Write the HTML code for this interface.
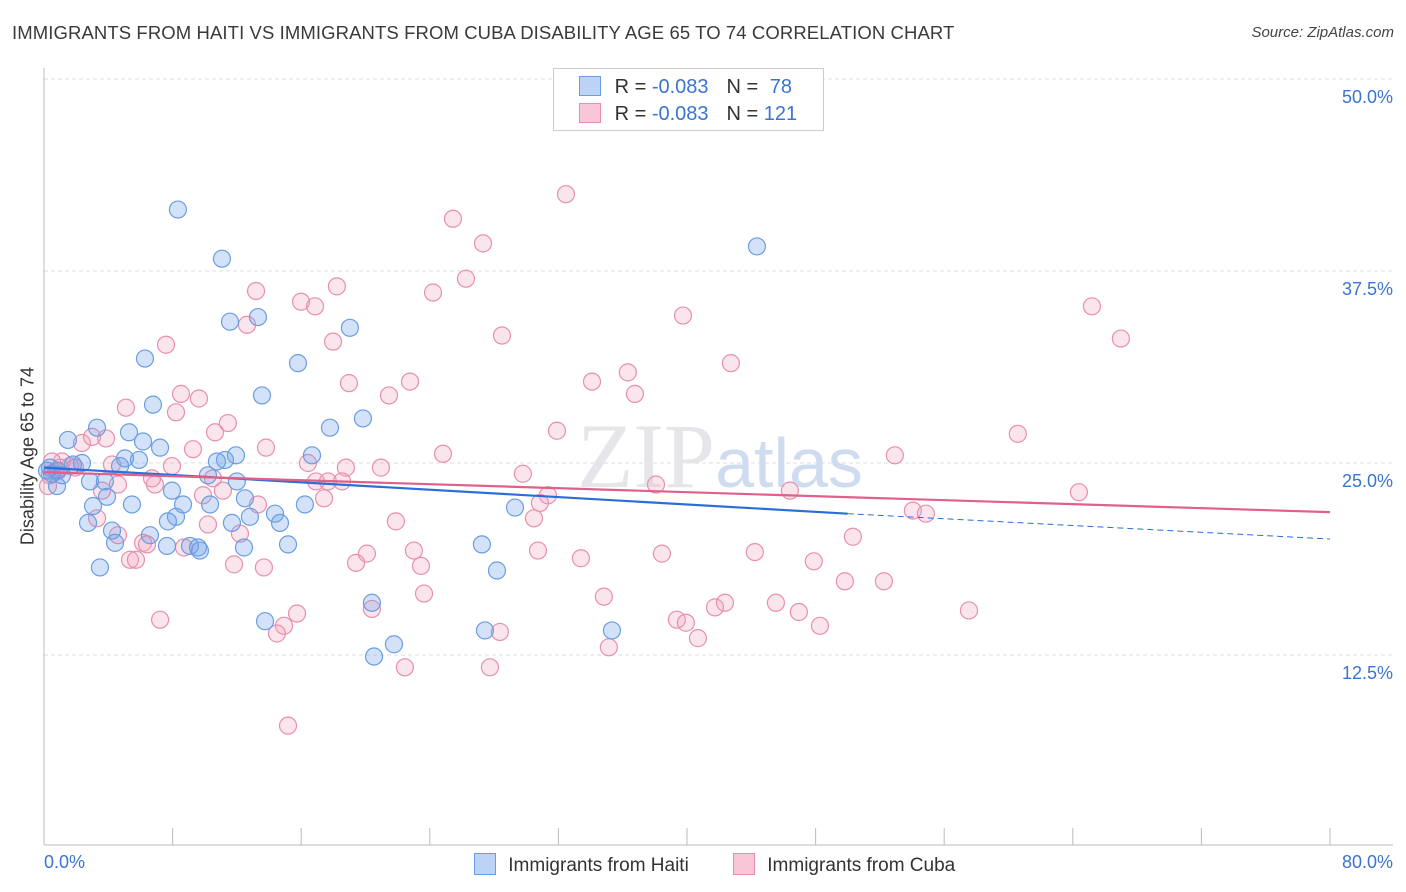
<!DOCTYPE html>
<html><head><meta charset="utf-8">
<style>
body{margin:0;background:#fff;font-family:"Liberation Sans",sans-serif;}
#wrap{position:relative;width:1406px;height:892px;overflow:hidden;}
.t{position:absolute;white-space:nowrap;}
</style></head>
<body>
<div id="wrap">
<div class="t" style="left:12px;top:22px;font-size:18.5px;color:#3a3a3a;letter-spacing:0.1px">IMMIGRANTS FROM HAITI VS IMMIGRANTS FROM CUBA DISABILITY AGE 65 TO 74 CORRELATION CHART</div>
<div class="t" style="right:12px;top:24px;font-size:15px;color:#444;font-style:italic">Source: ZipAtlas.com</div>
<svg id="chart" width="1406" height="892" style="position:absolute;left:0;top:0"></svg>
</div>
<script>
const haitiX=[8.33,11.07,44.35,11.57,13.31,19.03,6.28,15.80,6.78,13.56,19.84,17.79,3.30,5.29,1.49,6.16,7.22,16.67,11.94,11.26,10.76,5.91,5.04,4.73,2.36,1.80,0.37,0.87,1.12,2.86,3.79,7.96,10.20,12.00,8.65,10.33,12.50,3.92,3.05,5.47,16.23,29.30,14.37,12.81,14.68,7.71,8.21,11.69,2.74,4.23,6.59,4.42,7.65,9.08,9.58,9.70,12.44,15.18,27.24,3.48,28.18,20.40,13.75,27.43,35.33,21.77,20.53,0.81,0.50,0.19];
const haitiY=[41.5,38.3,39.1,34.2,34.5,33.8,31.8,31.5,28.8,29.4,27.9,27.3,27.3,27.0,26.5,26.4,26.0,25.5,25.5,25.2,25.1,25.2,25.3,24.8,25.0,24.9,24.7,24.5,24.2,23.8,23.8,23.2,24.2,23.8,22.3,22.3,22.7,22.8,22.2,22.3,22.3,22.1,21.7,21.5,21.1,21.2,21.5,21.1,21.1,20.6,20.3,19.8,19.6,19.6,19.5,19.3,19.5,19.7,19.7,18.2,18.0,15.9,14.7,14.1,14.1,13.2,12.4,23.5,24.3,24.5];
const cubaX=[32.47,25.44,27.31,26.25,24.20,13.19,18.22,15.99,16.86,65.19,39.75,12.63,28.49,17.98,66.99,7.59,42.73,36.32,34.09,22.77,18.97,8.52,36.76,9.64,21.46,5.10,8.21,11.44,10.64,31.91,60.58,2.36,3.86,2.99,9.27,13.81,24.82,52.93,1.12,16.42,18.78,20.96,29.79,7.96,4.23,1.62,0.75,0.25,4.60,6.90,6.72,10.51,11.13,16.92,17.66,18.54,38.07,46.40,64.38,3.61,9.89,13.31,17.42,31.35,30.85,54.05,54.86,3.30,21.89,10.20,30.48,12.19,50.32,4.60,6.16,6.41,8.71,20.09,23.01,30.73,38.44,44.22,5.35,5.72,19.41,33.40,11.82,13.68,23.45,47.89,49.82,52.25,23.64,34.83,42.36,41.74,45.53,57.54,46.96,15.74,20.40,7.22,39.37,39.93,48.27,14.93,14.49,28.36,40.68,35.14,22.45,27.74,15.18,0.37,1.00,1.93,0.50];
const cubaY=[42.5,40.9,39.3,37.0,36.1,36.2,36.5,35.5,35.2,35.2,34.6,34.0,33.3,32.9,33.1,32.7,31.5,30.9,30.3,30.3,30.2,29.5,29.5,29.2,29.4,28.6,28.3,27.6,27.0,27.1,26.9,26.3,26.6,26.7,25.9,26.0,25.6,25.5,25.1,25.0,24.7,24.7,24.3,24.8,24.9,24.8,24.5,23.5,23.6,23.6,24.0,24.0,23.2,23.8,23.8,23.8,23.6,23.2,23.1,23.2,22.9,22.3,22.7,22.9,22.4,21.9,21.7,21.4,21.2,21.0,21.4,20.4,20.2,20.3,19.8,19.7,19.5,19.1,19.3,19.3,19.1,19.2,18.7,18.7,18.5,18.8,18.4,18.2,18.3,18.6,17.3,17.3,16.5,16.3,15.9,15.6,15.9,15.4,15.3,15.2,15.5,14.8,14.8,14.6,14.4,14.4,13.9,14.0,13.6,13.0,11.7,11.7,7.9,24.2,24.7,24.7,25.1];
const yTicks=[12.5,25.0,37.5,50.0];
const yTickLabels=["12.5%","25.0%","37.5%","50.0%"];
const xTicks=[0,8,16,24,32,40,48,56,64,72,80];
const haitiTrend=[24.7,21.7,20.05]; // at x=0, x=50 (end of solid), x=80
const cubaTrend=[24.4,21.8]; // at x=0, x=80

const NS="http://www.w3.org/2000/svg";
const svg=document.getElementById('chart');
const X0=44,X1=1330,Y0=847,YS=192/12.5;
const sx=v=>X0+(v/80)*(X1-X0);
const sy=v=>Y0-v*YS;
function mk(tag,attrs,parent){const e=document.createElementNS(NS,tag);for(const k in attrs)e.setAttribute(k,attrs[k]);(parent||svg).appendChild(e);return e;}

yTicks.forEach((t,i)=>{
  const g=mk('line',{x1:X0,x2:1393,y1:sy(t),y2:sy(t),stroke:'#dcdcdc','stroke-dasharray':'4,3','stroke-width':1});
  
  
  const tx=mk('text',{x:1393,y:sy(t)+24,'text-anchor':'end','font-size':18,fill:'#3b74d1','font-family':'Liberation Sans, sans-serif'});
  tx.textContent=yTickLabels[i];
  
  
});
const ax=mk('line',{x1:X0,x2:X0,y1:68,y2:845,stroke:'#bbb','stroke-width':1});


const bx=mk('line',{x1:X0,x2:1393,y1:845,y2:845,stroke:'#bbb','stroke-width':1});


xTicks.forEach(t=>{
  const l=mk('line',{x1:sx(t),x2:sx(t),y1:828,y2:845,stroke:'#bbb','stroke-width':1});
  
  
});
const wm=mk('text',{x:720,y:487,'text-anchor':'middle','font-size':92,fill:'#e6e6ea','font-family':'Liberation Serif, serif'});
wm.innerHTML='ZIP<tspan font-family="Liberation Sans, sans-serif" font-size="70" fill="#cfdcf0">atlas</tspan>';



cubaX.forEach((v,i)=>{
  const c=mk('circle',{cx:sx(v),cy:sy(cubaY[i]),r:8.5,fill:'rgba(242,160,188,0.28)',stroke:'#e98fae','stroke-width':1.2});
  
  
});
haitiX.forEach((v,i)=>{
  const c=mk('circle',{cx:sx(v),cy:sy(haitiY[i]),r:8.5,fill:'rgba(110,160,232,0.3)',stroke:'#6a9ee2','stroke-width':1.2});
  
  
});
const hl=mk('line',{x1:sx(0),y1:sy(haitiTrend[0]),x2:sx(50),y2:sy(haitiTrend[1]),stroke:'#2a6fd6','stroke-width':2.2});


const hd=mk('line',{x1:sx(50),y1:sy(haitiTrend[1]),x2:sx(80),y2:sy(haitiTrend[2]),stroke:'#2a6fd6','stroke-width':1,'stroke-dasharray':'6,4'});


const cl=mk('line',{x1:sx(0),y1:sy(cubaTrend[0]),x2:sx(80),y2:sy(cubaTrend[1]),stroke:'#e0608a','stroke-width':2.2});


</script>

<div class="t" style="left:28px;top:456px;font-size:18px;color:#333;transform:translate(-50%,-50%) rotate(-90deg)">Disability Age 65 to 74</div>
<div class="t" style="left:44px;top:852px;font-size:18px;color:#3b74d1">0.0%</div>
<div class="t" style="right:13px;top:852px;font-size:18px;color:#3b74d1">80.0%</div>

<div style="position:absolute;left:553px;top:68px;width:269px;height:61px;border:1px solid #ccc;background:#fff;font-size:20px;color:#333">
  <div style="position:absolute;left:25px;top:7px;white-space:nowrap">
    <span style="display:inline-block;width:20px;height:18px;background:#bcd3f5;border:1px solid #6a9ee2;vertical-align:-3px"></span>
    <span style="margin-left:8px">R = </span><span style="color:#3b74d1">-0.083</span><span style="margin-left:18px">N = </span><span style="color:#3b74d1;margin-left:6px">78</span>
  </div>
  <div style="position:absolute;left:25px;top:34px;white-space:nowrap">
    <span style="display:inline-block;width:20px;height:18px;background:#f8c6d6;border:1px solid #e98fae;vertical-align:-3px"></span>
    <span style="margin-left:8px">R = </span><span style="color:#3b74d1">-0.083</span><span style="margin-left:18px">N = </span><span style="color:#3b74d1">121</span>
  </div>
</div>

<div style="position:absolute;left:474px;top:853px;white-space:nowrap;font-size:19px;color:#333">
  <span style="display:inline-block;width:20px;height:20px;background:#bcd3f5;border:1px solid #6a9ee2;vertical-align:-4px"></span>
  <span style="margin-left:7px">Immigrants from Haiti</span>
</div>
<div style="position:absolute;left:733px;top:853px;white-space:nowrap;font-size:19px;color:#333">
  <span style="display:inline-block;width:20px;height:20px;background:#f8c6d6;border:1px solid #e98fae;vertical-align:-4px"></span>
  <span style="margin-left:7px">Immigrants from Cuba</span>
</div>
</body></html>
